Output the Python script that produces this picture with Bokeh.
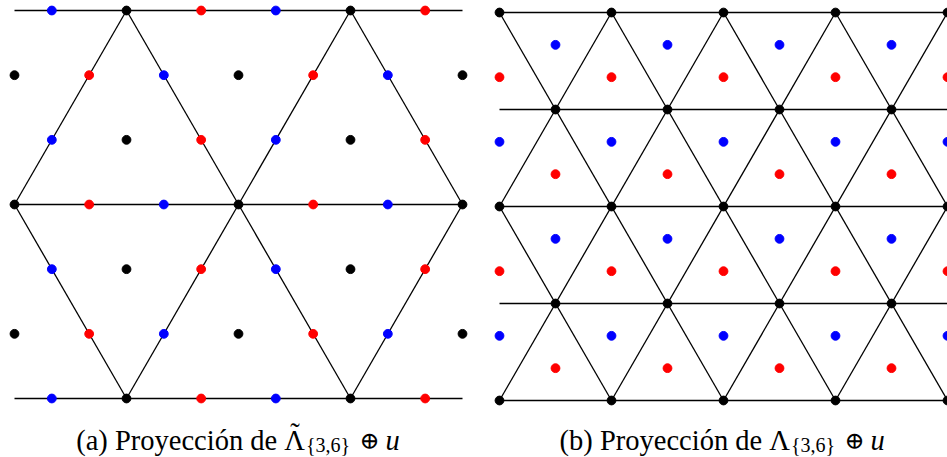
import math
from bokeh.plotting import figure
from bokeh.layouts import row
from bokeh.models import Range1d
from bokeh.core.properties import value
from bokeh.embed import file_html
from bokeh.resources import INLINE

H = math.sqrt(3) / 2.0   # row height of a unit triangular lattice

# ---------------- Panel (a): points as (column, row); column step = half spacing
a_black_col = [3, 9, 3, 9, 3, 9, 3, 9, 0, 6, 12, 0, 6, 12, 0, 6, 12]
a_black_row = [0, 0, 2, 2, 4, 4, 6, 6, 1, 1, 1, 3, 3, 3, 5, 5, 5]
a_red_col = [5, 11, 5, 11, 5, 11, 5, 11, 2, 8, 2, 8, 2, 8]
a_red_row = [0, 0, 2, 2, 4, 4, 6, 6, 1, 1, 3, 3, 5, 5]
a_blue_col = [1, 7, 1, 7, 1, 7, 1, 7, 4, 10, 4, 10, 4, 10]
a_blue_row = [0, 0, 2, 2, 4, 4, 6, 6, 1, 1, 3, 3, 5, 5]
# segments
a_seg_c0 = [0, 0, 0, 3, 3, 9, 9, 0, 6, 6, 12]
a_seg_r0 = [0, 3, 6, 6, 6, 6, 6, 3, 3, 3, 3]
a_seg_c1 = [12, 12, 12, 0, 6, 6, 12, 3, 3, 9, 9]
a_seg_r1 = [0, 3, 6, 3, 3, 3, 3, 0, 0, 0, 0]

# ---------------- Panel (b): rows of coloured points given in thirds of a row
b_black_col = [0, 2, 4, 6, 8, 0, 2, 4, 6, 8, 0, 2, 4, 6, 8, 1, 3, 5, 7, 1, 3, 5, 7]
b_black_row3 = [0, 0, 0, 0, 0, 6, 6, 6, 6, 6, 12, 12, 12, 12, 12, 3, 3, 3, 3, 9, 9, 9, 9]
b_blue_col = [1, 3, 5, 7, 0, 2, 4, 6, 8, 1, 3, 5, 7, 0, 2, 4, 6, 8]
b_blue_row3 = [11, 11, 11, 11, 8, 8, 8, 8, 8, 5, 5, 5, 5, 2, 2, 2, 2, 2]
b_red_col = [0, 2, 4, 6, 8, 1, 3, 5, 7, 0, 2, 4, 6, 8, 1, 3, 5, 7]
b_red_row3 = [10, 10, 10, 10, 10, 7, 7, 7, 7, 4, 4, 4, 4, 4, 1, 1, 1, 1]
b_seg_c0 = [0, 0, 0, 0, 0,   0, 0, 2, 4, 6,   0, 0, 2, 4, 6]
b_seg_r0 = [0, 1, 2, 3, 4,   2, 0, 0, 0, 0,   2, 4, 4, 4, 4]
b_seg_c1 = [8, 8, 8, 8, 8,   2, 4, 6, 8, 8,   2, 4, 6, 8, 8]
b_seg_r1 = [0, 1, 2, 3, 4,   4, 4, 4, 4, 2,   0, 0, 0, 0, 2]

cap_a_main = "(a) Proyección de Λ"
cap_b_main = "(b) Proyección de Λ"
cap_tilde = "˜"
cap_sub = "{3,6}"
cap_op = "⊕"
cap_var = "u"

RED = "#ff0000"
BLUE = "#0000ff"
BLACK = "#000000"
SERIF = "Liberation Serif"


def X(cols):
    return [c * 0.5 for c in cols]


def Y(rows):
    return [r * H for r in rows]


def make_fig(w, h, xr, yr):
    p = figure(width=w, height=h, x_range=Range1d(*xr), y_range=Range1d(*yr),
               toolbar_location=None, output_backend="svg", min_border=0,
               background_fill_color="white", border_fill_color="white")
    p.axis.visible = False
    p.grid.visible = False
    p.outline_line_color = None
    return p


def caption(p, cx, cy, scale, main, tilde):
    px = 1.0 / scale
    p.text(x=[cx + 66.5 * px], y=[cy], text=[main], text_align="right",
           text_baseline="alphabetic", text_font=value(SERIF), text_font_size="28.5px",
           text_color=BLACK)
    if tilde:
        p.text(x=[cx + 56.5 * px], y=[cy + 7 * px], text=[cap_tilde], text_align="center",
               text_baseline="alphabetic", text_font=value(SERIF), text_font_size="28.5px",
               text_color=BLACK)
    p.text(x=[cx + 67.5 * px], y=[cy - 4.5 * px], text=[cap_sub], text_align="left",
           text_baseline="alphabetic", text_font=value(SERIF), text_font_size="20px",
           text_color=BLACK)
    p.text(x=[cx + 131 * px], y=[cy], text=[cap_op], text_align="center",
           text_baseline="alphabetic", text_font=value("DejaVu Serif"), text_font_size="24px",
           text_color=BLACK)
    p.text(x=[cx + 147 * px], y=[cy], text=[cap_var], text_align="left",
           text_baseline="alphabetic", text_font=value(SERIF), text_font_size="28.5px",
           text_font_style="italic", text_color=BLACK)


# ---- panel (a): 74.667 px per lattice unit
SA = 448.0 / 6.0
pa = make_fig(480, 457, (-14 / SA, 466 / SA), (-59 / SA, 398 / SA))
pa.segment(x0=X(a_seg_c0), y0=Y(a_seg_r0), x1=X(a_seg_c1), y1=Y(a_seg_r1),
           line_color=BLACK, line_width=1.3)
pa.scatter(X(a_black_col), Y(a_black_row), size=8.8, color=BLACK)
pa.scatter(X(a_red_col), Y(a_red_row), size=8.8, color=RED)
pa.scatter(X(a_blue_col), Y(a_blue_row), size=8.8, color=BLUE)
caption(pa, 3.0, -42 / SA, SA, cap_a_main, True)

# ---- panel (b): 112 px per lattice unit
SB = 112.0
pb = make_fig(467, 457, (-19 / SB, 448 / SB), (-57 / SB, 400 / SB))
pb.segment(x0=X(b_seg_c0), y0=Y(b_seg_r0), x1=X(b_seg_c1), y1=Y(b_seg_r1),
           line_color=BLACK, line_width=1.3)
pb.scatter(X(b_black_col), Y([r / 3.0 for r in b_black_row3]), size=8.8, color=BLACK)
pb.scatter(X(b_red_col), Y([r / 3.0 for r in b_red_row3]), size=8.8, color=RED)
pb.scatter(X(b_blue_col), Y([r / 3.0 for r in b_blue_row3]), size=8.8, color=BLUE)
caption(pb, 2.0, -40 / SB, SB, cap_b_main, False)

layout = row(pa, pb, spacing=0)
open("out.html", "w").write(file_html(layout, INLINE))
